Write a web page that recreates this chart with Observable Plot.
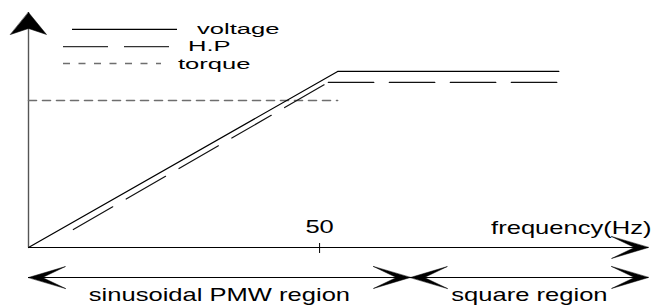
<!DOCTYPE html>
<html><head><meta charset="utf-8">
<script src="https://cdn.jsdelivr.net/npm/d3@7"></script>
<script src="https://cdn.jsdelivr.net/npm/@observablehq/plot@0.6"></script>
<style>html,body{margin:0;padding:0;background:#fff;} #chart{width:659px;height:306px;overflow:hidden;}</style>
</head><body><div id="chart"></div>
<script>
// ---- data ----
const seriesNames = ["voltage", "H.P", "torque"];
const voltageFreq = [0, 53.1, 91.1];
const voltageValue = [0, 100, 100];
const hpFreq = [7.7, 51.5, 91.1];
const hpValue = [10.2, 93.8, 93.8];
const torqueFreq = [0, 53.1];
const torqueValue = [83.5, 83.5];
const tickFreqs = [50];
const tickLabels = ["50"];
const xAxisLabel = "frequency(Hz)";
const regionLabels = ["sinusoidal PMW region", "square region"];
const regionBounds = [0, 65.6, 106.5];
const xMax = 106.5;
const yMax = 133.5;

// ---- build tables ----
const voltage = voltageFreq.map((f, i) => ({f, v: voltageValue[i]}));
const hp = [];
for (let i = 0; i < hpFreq.length - 1; i++) {
  hp.push({f: hpFreq[i], v: hpValue[i], seg: i}, {f: hpFreq[i + 1], v: hpValue[i + 1], seg: i});
}
const torque = torqueFreq.map((f, i) => ({f, v: torqueValue[i]}));
const regions = regionLabels.map((label, i) => ({label, from: regionBounds[i], to: regionBounds[i + 1]}));
const regionEnds = regions.flatMap(r => [{f: r.from, rot: -90}, {f: r.to, rot: 90}]);

const FONT = 18, STRETCH = 1.42;
const LEGEND_FONT = 15.5, LEGEND_STRETCH = 1.65;
function head(h, w, n) {
  return {draw(ctx, l) {
    ctx.moveTo(0, -l); ctx.lineTo(w, -l + h); ctx.lineTo(0, -l + n); ctx.lineTo(-w, -l + h); ctx.closePath();
  }};
}
const headX = head(37, 11, 14);
const headY = head(22, 18, 16);

const plot = Plot.plot({
  width: 659, height: 306,
  marginLeft: 28, marginRight: 11, marginTop: 12, marginBottom: 59,
  style: {fontFamily: "'Liberation Sans', Arial, sans-serif", fontSize: FONT + "px", color: "#000", background: "#fff"},
  x: {domain: [0, xMax], axis: null},
  y: {domain: [0, yMax], axis: null},
  marks: [
    Plot.ruleY([0], {stroke: "#000", strokeWidth: 1.2}),
    Plot.ruleX([0], {stroke: "#555", strokeWidth: 1.4}),
    Plot.vector([xMax], {x: d => d, y: 0, rotate: 90, length: 37, anchor: "end", shape: headX, fill: "#000", stroke: "#000", strokeWidth: 0.5}),
    Plot.vector([yMax], {x: 0, y: d => d, rotate: 0, length: 22, anchor: "end", shape: headY, fill: "#000", stroke: "#000", strokeWidth: 0.5}),
    Plot.ruleX(tickFreqs, {x: d => d, y1: 0, y2: 0, insetTop: -4, insetBottom: -6, stroke: "#000", strokeWidth: 1}),
    Plot.text(tickFreqs, {x: d => d, y: 0, dy: -20, text: (d, i) => tickLabels[i], fontSize: FONT, lineAnchor: "middle"}),
    Plot.text([xAxisLabel], {x: xMax, y: 0, dx: 3, dy: -19, text: d => d, textAnchor: "end", fontSize: FONT, lineAnchor: "middle"}),
    Plot.line(torque, {x: "f", y: "v", stroke: "#6e6e6e", strokeWidth: 1.6, strokeDasharray: "8,6"}),
    Plot.line(voltage, {x: "f", y: "v", stroke: "#000", strokeWidth: 1.2}),
    Plot.line(hp, {x: "f", y: "v", z: "seg", stroke: "#111", strokeWidth: 1.2, strokeDasharray: "45.5,15.5"}),
    Plot.ruleY(regions, {x1: "from", x2: "to", y: 0, dy: 30, stroke: "#000", strokeWidth: 1.2}),
    Plot.vector(regionEnds, {x: "f", y: 0, dy: 30, rotate: "rot", length: 37, anchor: "end", shape: headX, fill: "#000", stroke: "#000", strokeWidth: 0.5}),
    Plot.text(regions, {x: d => (d.from + d.to) / 2, y: 0, dy: 48, text: "label", fontSize: FONT, lineAnchor: "middle"})
  ]
});

// horizontally stretched lettering, as in the original
plot.querySelectorAll("text").forEach(t => {
  const tr = t.getAttribute("transform") || "";
  t.setAttribute("transform", tr + ` scale(${STRETCH},1)`);
});

// ---- legend (inside the plot area, top-left) ----
const svg = d3.select(plot);
const legendStyles = [
  {x1: 72, x2: 177, y: 29.3, ty: 29.0, tx: 197, stroke: "#000", width: 1.2, dash: null},
  {x1: 63, x2: 169, y: 46.7, ty: 46.4, tx: 188, stroke: "#333", width: 1.2, dash: "45,16"},
  {x1: 63, x2: 161, y: 63.5, ty: 64.5, tx: 178, stroke: "#6e6e6e", width: 1.6, dash: "7,8.5"}
];
const lg = svg.append("g").attr("aria-label", "legend").attr("text-anchor", "start");
seriesNames.forEach((name, i) => {
  const s = legendStyles[i];
  lg.append("line").attr("x1", s.x1).attr("x2", s.x2).attr("y1", s.y).attr("y2", s.y)
    .attr("stroke", s.stroke).attr("stroke-width", s.width).attr("stroke-dasharray", s.dash);
  lg.append("text").attr("transform", `translate(${s.tx},${s.ty}) scale(${LEGEND_STRETCH},1)`).attr("y", "0.32em")
    .attr("text-anchor", "start").attr("font-size", LEGEND_FONT).attr("fill", "#000").text(name);
});

document.getElementById("chart").appendChild(plot);
</script>
</body></html>
